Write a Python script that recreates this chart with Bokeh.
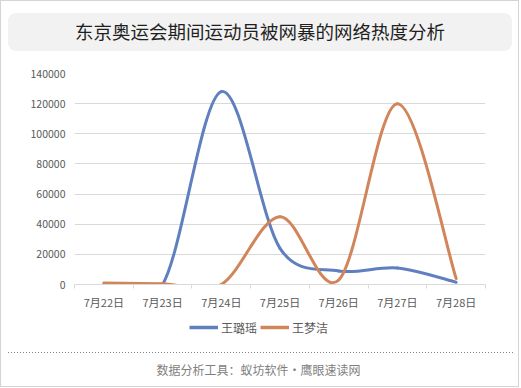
import math
from bokeh.plotting import figure
from bokeh.models import (Range1d, FixedTicker, Legend, LegendItem,
                          ColumnDataSource, BasicTickFormatter, Div)
from bokeh.layouts import column
from bokeh.embed import file_html
from bokeh.resources import INLINE

# ---------------- data ----------------
title_text = "东京奥运会期间运动员被网暴的网络热度分析"
footer_text = "数据分析工具：蚁坊软件・鹰眼速读网"
dates = ["7月22日", "7月23日", "7月24日", "7月25日", "7月26日", "7月27日", "7月28日"]
series_names = ["王璐瑶", "王梦洁"]
wang_luyao = [0, 0, 128000, 24000, 9000, 11000, 1500]
wang_mengjie = [1000, 500, 0, 45000, 3000, 120000, 4000]
y_ticks = [0, 20000, 40000, 60000, 80000, 100000, 120000, 140000]

# ---------------- style / layout ----------------
FONT = "Noto Sans CJK SC"
BLUE = "#5f7fbf"
ORANGE = "#d2855a"
GRID = "#d9d9d9"
W = 519
TITLE_H = 51
MAIN_H = 261
LEG_H = 28
FOOT_H = 47
FL, FR, FT, FB = 74, 34, 22, 28

n = len(dates)
xs = list(range(n))
y_max = y_ticks[-1]

# ---------------- title ----------------
title_div = Div(width=W, height=TITLE_H, margin=0, text=(
    '<div style="padding:13px 0 0 8px;">'
    '<div style="width:504px;height:38px;background:#f2f2f2;border-radius:8px;'
    'text-align:center;line-height:36px;white-space:nowrap;'
    f'font-family:\'{FONT}\';font-size:18.5px;color:#1f1f1f;">{title_text}</div></div>'))

# ---------------- main chart ----------------
p = figure(width=W, height=MAIN_H, x_range=Range1d(-0.5, n - 0.5),
           y_range=Range1d(0, y_max), output_backend="svg",
           toolbar_location=None, min_border_left=FL, min_border_right=FR,
           min_border_top=FT, min_border_bottom=FB)
p.outline_line_color = None
p.background_fill_alpha = 0
p.border_fill_alpha = 0

frame_w = W - FL - FR
frame_h = MAIN_H - FT - FB
sx = frame_w / n
sy = frame_h / y_max


def bezier_source(vals):
    pts = list(zip(xs, vals))
    d = dict(x0=[], y0=[], x1=[], y1=[], cx0=[], cy0=[], cx1=[], cy1=[])

    def dist(a, b):
        return math.hypot((a[0] - b[0]) * sx, (a[1] - b[1]) * sy)

    for i in range(n - 1):
        p0 = pts[max(i - 1, 0)]
        p1 = pts[i]
        p2 = pts[i + 1]
        p3 = pts[min(i + 2, n - 1)]
        d12 = dist(p1, p2)
        d02 = dist(p0, p2)
        d13 = dist(p1, p3)
        f0 = f1 = 1 / 6
        if d02 > 0 and d02 / 6 >= d12 / 2:
            f0 = d12 / d02 / 2
        if d13 > 0 and d13 / 6 >= d12 / 2:
            f1 = d12 / d13 / 2
        d["x0"].append(p1[0]); d["y0"].append(p1[1])
        d["x1"].append(p2[0]); d["y1"].append(p2[1])
        d["cx0"].append(p1[0] + f0 * (p2[0] - p0[0]))
        d["cy0"].append(p1[1] + f0 * (p2[1] - p0[1]))
        d["cx1"].append(p2[0] - f1 * (p3[0] - p1[0]))
        d["cy1"].append(p2[1] - f1 * (p3[1] - p1[1]))
    return ColumnDataSource(d)


p.bezier(x0="x0", y0="y0", x1="x1", y1="y1", cx0="cx0", cy0="cy0",
         cx1="cx1", cy1="cy1", source=bezier_source(wang_luyao),
         line_color=BLUE, line_width=3, line_cap="round")
p.bezier(x0="x0", y0="y0", x1="x1", y1="y1", cx0="cx0", cy0="cy0",
         cx1="cx1", cy1="cy1", source=bezier_source(wang_mengjie),
         line_color=ORANGE, line_width=3, line_cap="round")

p.xgrid.grid_line_color = None
p.ygrid.grid_line_color = GRID
p.ygrid.ticker = FixedTicker(ticks=y_ticks)

xa = p.xaxis[0]
xa.ticker = FixedTicker(ticks=xs, minor_ticks=[i - 0.5 for i in range(n + 1)])
xa.major_label_overrides = {i: dt for i, dt in enumerate(dates)}
xa.axis_line_color = GRID
xa.major_tick_line_color = None
xa.major_tick_out = 4
xa.major_tick_in = 0
xa.minor_tick_line_color = GRID
xa.minor_tick_out = 4
xa.minor_tick_in = 0
xa.major_label_standoff = 5
xa.major_label_text_font = FONT
xa.major_label_text_font_size = "11px"
xa.major_label_text_color = "#595959"

ya = p.yaxis[0]
ya.ticker = FixedTicker(ticks=y_ticks)
ya.formatter = BasicTickFormatter(use_scientific=False)
ya.axis_line_color = None
ya.major_tick_line_color = None
ya.minor_tick_line_color = None
ya.major_tick_out = 0
ya.major_tick_in = 0
ya.major_label_standoff = 9
ya.major_label_text_font = FONT
ya.major_label_text_font_size = "10.5px"
ya.major_label_text_color = "#595959"

# ---------------- legend strip ----------------
q = figure(width=W, height=LEG_H, x_range=Range1d(0, 1), y_range=Range1d(0, 1),
           output_backend="svg", toolbar_location=None,
           min_border_left=FL, min_border_right=FR, min_border_top=0,
           min_border_bottom=0, x_axis_location=None, y_axis_location=None)
q.outline_line_color = None
q.background_fill_alpha = 0
q.border_fill_alpha = 0
q.grid.visible = False

nan = float("nan")
lb = q.line(x=[nan, nan], y=[nan, nan], line_color=BLUE, line_width=3.5)
lo = q.line(x=[nan, nan], y=[nan, nan], line_color=ORANGE, line_width=3.5)
legend = Legend(items=[LegendItem(label=series_names[0], renderers=[lb]),
                       LegendItem(label=series_names[1], renderers=[lo])],
                orientation="horizontal", location=(189 - FL, 3),
                glyph_width=29, glyph_height=20, label_height=20,
                label_standoff=3, spacing=3, padding=0, margin=0,
                border_line_color=None, background_fill_alpha=0,
                label_text_font=FONT, label_text_font_size="12px",
                label_text_color="#595959")
q.add_layout(legend)

# ---------------- footer ----------------
footer_div = Div(width=W, height=FOOT_H, margin=0, text=(
    '<div style="padding:12px 0 0 8px;">'
    '<div style="width:505px;height:1px;'
    'background-image:linear-gradient(to right,#7f7f7f 1px,transparent 1px);'
    'background-size:3px 1px;background-repeat:repeat-x;"></div></div>'
    '<div style="padding:9px 0 0 4px;text-align:center;line-height:16px;white-space:nowrap;'
    f'font-family:\'{FONT}\';font-size:12px;color:#7f7f7f;">{footer_text}</div>'))

layout = column(title_div, p, q, footer_div, spacing=0,
                styles={"box-shadow": "inset 0 0 0 1px #d4d4d4",
                        "background": "white"})

open("out.html", "w").write(file_html(layout, INLINE))
